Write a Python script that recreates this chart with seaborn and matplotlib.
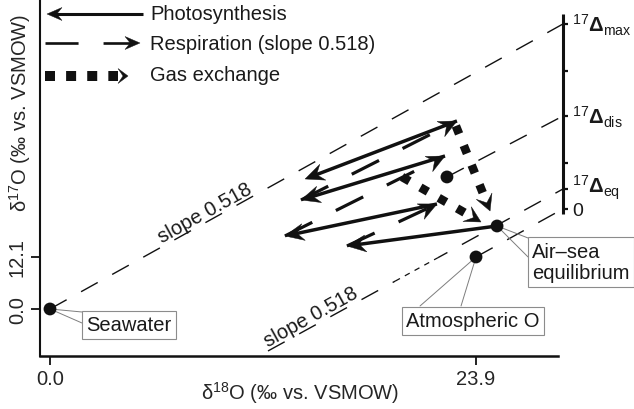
import numpy as np
import pandas as pd
import matplotlib
matplotlib.use("Agg")
import matplotlib.pyplot as plt
import seaborn as sns
from matplotlib.patches import Polygon

# ---------------- data (schematic δ18O, δ17O positions, ‰ vs. VSMOW) ----------------
pt_name = ["Seawater", "Air–sea equilibrium", "Atmospheric O", "Dissolved"]
pt_d18 = [0.0, 25.08, 23.9, 22.27]
pt_d17 = [0.0, 19.31, 12.1, 30.72]

# slope-0.518 reference lines (start / end)
ref_x0 = [0.0, 22.27, 12.23, 23.9]
ref_y0 = [0.0, 30.72, -9.77, 12.1]
ref_x1 = [28.78, 28.78, 28.78, 28.61]
ref_y1 = [66.32, 44.91, 27.92, 22.90]
fine_x = [19.36, 21.77]          # short-dash part of the equilibrium line
fine_y = [6.47, 11.95]

photo_x0 = [22.83, 22.16, 21.71, 25.08]
photo_y0 = [43.75, 35.60, 24.43, 19.31]
photo_x1 = [14.31, 14.08, 13.18, 16.66]
photo_y1 = [30.25, 25.36, 16.99, 14.66]

resp_x0 = [14.08, 13.18, 16.66]
resp_y0 = [25.36, 16.99, 14.66]
resp_x1 = [22.83, 22.16, 21.71]
resp_y1 = [43.75, 35.60, 24.43]

gas_x0 = [22.77, 19.75]
gas_y0 = [42.60, 30.72]
gas_x1 = [24.69, 24.18]
gas_y1 = [22.80, 20.24]

x_ticks = [0.0, 23.9]
y_ticks = [0.0, 12.1]

d17_axis_x = 28.78
d17_axis_range = [22.11, 68.64]
d17_ticks = [66.32, 55.38, 44.91, 33.97, 27.92, 23.27]
d17_labels = [r"$^{17}\mathbf{\Delta}_{\mathrm{max}}$", "", r"$^{17}\mathbf{\Delta}_{\mathrm{dis}}$", "",
              r"$^{17}\mathbf{\Delta}_{\mathrm{eq}}$", "0"]
d17_label_dy = [0.0, 0.0, 0.0, 0.0, 0.6, -0.35]   # small nudges (data units) to avoid clashes

slope_lab_x = [8.95, 14.92]
slope_lab_y = [20.62, -3.64]

legend_labels = ["Photosynthesis", "Respiration (slope 0.518)", "Gas exchange"]

# ---------------- style ----------------
sns.set_theme(style="white")
plt.rcParams.update({
    "font.family": ["Liberation Sans", "DejaVu Sans"],
    "mathtext.fontset": "custom",
    "mathtext.rm": "Liberation Sans",
    "mathtext.it": "Liberation Sans:italic",
    "mathtext.bf": "Liberation Sans:bold",
    "lines.scale_dashes": False,
    "text.color": "#1a1a1a",
})
FS = 14.5
K = "#111111"

fig = plt.figure(figsize=(6.34, 4.10), dpi=100)
ax = fig.add_axes([40 / 634, 53 / 410, 518 / 634, 357 / 410])
ax.set_xlim(-0.561, 28.50)
ax.set_ylim(-10.94, 72.13)

TD = ax.transData
TF = fig.transFigure


def fig_px(x, y):
    return (x / 634, 1 - y / 410)


def head(tip, tail, L, W, notch, trans, z=7):
    p1 = np.asarray(trans.transform(tip), float)
    p0 = np.asarray(trans.transform(tail), float)
    d = (p1 - p0) / np.hypot(*(p1 - p0))
    n = np.array([-d[1], d[0]])
    base = p1 - d * L
    pts = np.array([p1, base + n * W, p1 - d * L * notch, base - n * W])
    inv = trans.inverted()
    ax.add_patch(Polygon(inv.transform(pts), closed=True, transform=trans, fc=K, ec=K,
                         lw=0.3, zorder=z, clip_on=False))
    return inv.transform(p1 - d * (L * notch - 1.5))


# reference lines
for i in range(len(ref_x0)):
    if i == 2:
        ax.plot([ref_x0[i], fine_x[0]], [ref_y0[i], fine_y[0]], color=K, lw=1.0,
                ls=(0, (13.7, 11.9)), zorder=2, clip_on=False)
        ax.plot([fine_x[0], fine_x[1]], [fine_y[0], fine_y[1]], color=K, lw=0.9,
                ls=(0, (4, 4)), zorder=2, clip_on=False)
        ax.plot([fine_x[1], ref_x1[i]], [fine_y[1], ref_y1[i]], color=K, lw=1.0,
                ls=(6, (13.7, 11.9)), zorder=2, clip_on=False)
    else:
        ax.plot([ref_x0[i], ref_x1[i]], [ref_y0[i], ref_y1[i]], color=K, lw=1.0,
                ls=(0, (13.7, 11.9)), zorder=2, clip_on=False)

# slope labels
p0 = TD.transform((ref_x0[0], ref_y0[0]))
p1 = TD.transform((ref_x1[0], ref_y1[0]))
ang = np.degrees(np.arctan2(p1[1] - p0[1], p1[0] - p0[0]))
for x, y in zip(slope_lab_x, slope_lab_y):
    ax.text(x, y, "slope 0.518", rotation=ang, rotation_mode="anchor", ha="center",
            va="bottom", fontsize=FS, zorder=3)

# photosynthesis arrows (solid)
for i in range(len(photo_x0)):
    tip = (photo_x1[i], photo_y1[i])
    tail = (photo_x0[i], photo_y0[i])
    end = head(tip, tail, 19, 8.5, 0.65, TD)
    ax.plot([tail[0], end[0]], [tail[1], end[1]], color=K, lw=2.5, solid_capstyle="butt",
            zorder=5, clip_on=False)

# respiration arrows (dashed)
for i in range(len(resp_x0)):
    tip = (resp_x1[i], resp_y1[i])
    tail = (resp_x0[i], resp_y0[i])
    end = head(tip, tail, 18, 8.5, 0.65, TD)
    ax.plot([tail[0], end[0]], [tail[1], end[1]], color=K, lw=2.3, ls=(0, (22, 19)),
            dash_capstyle="butt", zorder=5, clip_on=False)

# gas exchange (squares)
for i in range(len(gas_x0)):
    tip = (gas_x1[i], gas_y1[i])
    tail = (gas_x0[i], gas_y0[i])
    end = head(tip, tail, 16, 8.5, 0.55, TD)
    ax.plot([tail[0], end[0]], [tail[1], end[1]], color=K, lw=6.2, ls=(0, (6.2, 9.0)),
            dash_capstyle="butt", zorder=6, clip_on=False)

# points
df = pd.DataFrame({"d18": pt_d18, "d17": pt_d17, "name": pt_name})
sns.scatterplot(data=df, x="d18", y="d17", color=K, s=85, edgecolor="none", zorder=8,
                ax=ax, clip_on=False, legend=False)

# callout boxes
GR = "#7d7d7d"
box = dict(boxstyle="square,pad=0.22", fc="white", ec="#8c8c8c", lw=0.8)
ax.plot([0.0, 1.795], [0.0, -0.70], color=GR, lw=0.7, zorder=3)
ax.plot([0.0, 1.795], [0.0, -3.26], color=GR, lw=0.7, zorder=3)
ax.text(4.43, -3.72, pt_name[0], ha="center", va="center", fontsize=FS, bbox=box, zorder=4)

ax.plot([25.08, 26.82], [19.31, 16.52], color=GR, lw=0.7, zorder=3, clip_on=False)
ax.plot([25.08, 26.82], [19.31, 12.10], color=GR, lw=0.7, zorder=3, clip_on=False)
ax.text(27.04, 10.94, "Air–sea\nequilibrium", ha="left", va="center", fontsize=FS,
        bbox=box, zorder=4, linespacing=1.15, clip_on=False)

ax.plot([23.9, 20.76], [12.1, 0.70], color=GR, lw=0.7, zorder=3)
ax.plot([23.9, 23.06], [12.1, 0.70], color=GR, lw=0.7, zorder=3)
ax.text(23.73, -2.79, pt_name[2], ha="center", va="center", fontsize=FS, bbox=box, zorder=4)

# right 17Δ axis
ax.plot([d17_axis_x, d17_axis_x], d17_axis_range, color=K, lw=2.2, zorder=4,
        solid_capstyle="butt", clip_on=False)
for y, lab, dy in zip(d17_ticks, d17_labels, d17_label_dy):
    ax.plot([d17_axis_x, d17_axis_x + 0.30], [y, y], color=K, lw=1.6, zorder=4,
            solid_capstyle="butt", clip_on=False)
    if lab:
        ax.text(d17_axis_x + 0.52, y + dy, lab, ha="left", va="center",
                fontsize=(FS if lab != "0" else FS - 0.5), clip_on=False)

# axes styling
for s in ["top", "right"]:
    ax.spines[s].set_visible(False)
ax.spines["left"].set_linewidth(1.5)
ax.spines["bottom"].set_linewidth(1.8)
ax.spines["left"].set_color(K)
ax.spines["bottom"].set_color(K)
ax.set_xticks(x_ticks, [f"{v:.1f}" for v in x_ticks], fontsize=FS)
ax.set_yticks(y_ticks, [f"{v:.1f}" for v in y_ticks], fontsize=FS, rotation=90, va="center")
ax.tick_params(direction="out", length=6.5, width=1.3, color=K, bottom=True, left=True, pad=3)

ax.set_xlabel("δ$^{18}$O (‰ vs. VSMOW)", fontsize=FS)
ax.set_ylabel("δ$^{17}$O (‰ vs. VSMOW)", fontsize=FS)
ax.xaxis.set_label_coords((300 - 40) / 518, -(393 - 357) / 357)
ax.yaxis.set_label_coords((20 - 40) / 518, (357 - 113) / 357)
ax.xaxis.label.set_va("center")
ax.yaxis.label.set_va("center")

# legend (drawn glyphs)
# photosynthesis
end = head(fig_px(47, 15), fig_px(143, 15), 15, 6.5, 0.65, TF)
ax.plot([fig_px(143, 15)[0], end[0]], [fig_px(143, 15)[1], end[1]], color=K, lw=2.2,
        transform=TF, clip_on=False, solid_capstyle="butt")
# respiration
end = head(fig_px(140, 44), fig_px(45, 44), 15, 6.5, 0.65, TF)
ax.plot([fig_px(45, 44)[0], end[0]], [fig_px(45, 44)[1], end[1]], color=K, lw=1.9,
        ls=(0, (23.8, 18)), transform=TF, clip_on=False, dash_capstyle="butt")
# gas exchange
end = head(fig_px(128, 77), fig_px(45, 77), 10, 7.5, 0.5, TF)
ax.plot([fig_px(45, 77)[0], fig_px(118, 77)[0]], [fig_px(45, 77)[1], fig_px(118, 77)[1]],
        color=K, lw=7.2, ls=(0, (7.2, 8.0)), transform=TF, clip_on=False,
        dash_capstyle="butt")
for lab, yy in zip(legend_labels, [15, 44, 76]):
    fig.text(*fig_px(150, yy), lab, ha="left", va="center", fontsize=FS)

fig.savefig("out.png", dpi=100)
